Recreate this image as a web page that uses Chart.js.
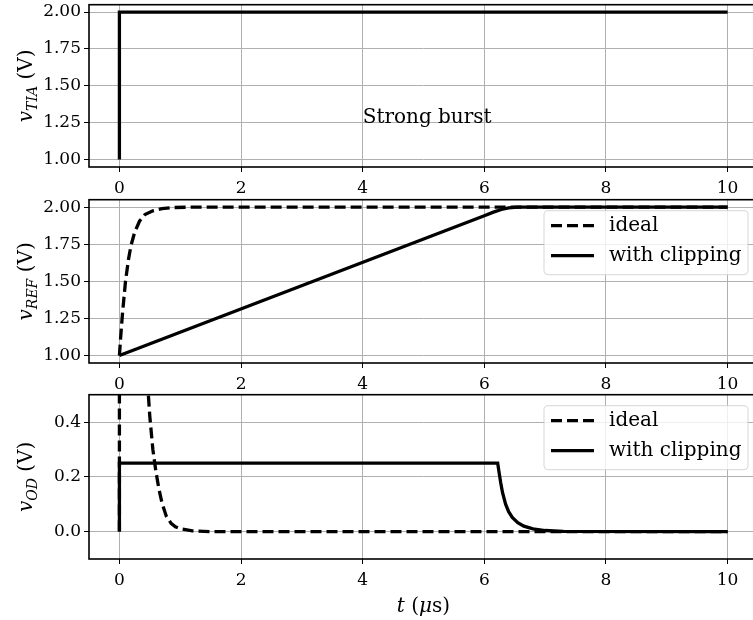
<!DOCTYPE html>
<html>
<head>
<meta charset="utf-8">
<script src="https://cdn.jsdelivr.net/npm/chart.js@4/dist/chart.umd.min.js"></script>
<style>
  html, body { margin: 0; padding: 0; background: #fff; overflow: hidden; width: 753px; height: 620px; }
  canvas { position: absolute; left: 0; }
</style>
</head>
<body>
<canvas id="tia" width="800" height="198" style="top:0px"></canvas>
<canvas id="ref" width="800" height="199" style="top:195px"></canvas>
<canvas id="od" width="800" height="230" style="top:390px"></canvas>
<script>
// tick positions
const ticksT = [0, 2, 4, 6, 8, 10];
const ticksV = [1.00, 1.25, 1.50, 1.75, 2.00];
const ticksOd = [0.0, 0.2, 0.4];

// v_TIA
const tTia = [0, 0, 10];
const vTia = [1.0, 2.0, 2.0];

// v_REF
const tRefIdeal = [0, 0.02, 0.05, 0.1, 0.15, 0.19, 0.25, 0.33, 0.42, 0.55, 0.7, 0.87, 1.2, 10];
const vRefIdeal = [1.0, 1.12, 1.28, 1.5, 1.65, 1.74, 1.83, 1.905, 1.95, 1.975, 1.99, 1.997, 2.0, 2.0];
const tRefClip = [0, 6.0, 6.15, 6.28, 6.4, 6.55, 10];
const vRefClip = [1.0, 1.942, 1.966, 1.984, 1.995, 2.0, 2.0];

// v_OD
const tOdIdeal = [0, 0, 0.4, 0.47, 0.5, 0.55, 0.6, 0.65, 0.7, 0.77, 0.85, 0.92, 1.0, 1.2, 1.5, 10];
const vOdIdeal = [0, 1.0, 0.75, 0.52, 0.42, 0.3, 0.22, 0.155, 0.105, 0.057, 0.03, 0.018, 0.011, 0.003, 0, 0];
const tOdClip = [0, 0, 6.22, 6.24, 6.27, 6.3, 6.35, 6.4, 6.46, 6.55, 6.65, 6.8, 7.0, 7.3, 10];
const vOdClip = [0, 0.25, 0.25, 0.22, 0.178, 0.142, 0.1, 0.073, 0.052, 0.033, 0.02, 0.01, 0.004, 0.001, 0];

const fonte = '"DejaVu Serif", serif';

function pontos(ts, vs) {
    return ts.map((t, i) => ({ x: t, y: vs[i] }));
}

function serie(ts, vs, tracejado) {
    return {
        data: pontos(ts, vs),
        borderColor: '#000',
        borderWidth: 3.3,
        borderDash: tracejado ? [11, 5] : [],
        pointRadius: 0,
        tension: 0,
        fill: false
    };
}

// spines, y label, legend and extra texts
const extras = {
    id: 'extras',
    afterDatasetsDraw(chart, args, opts) {
        const ctx = chart.ctx;
        const a = chart.chartArea;
        ctx.save();
        ctx.strokeStyle = '#000';
        ctx.lineWidth = 1.6;
        ctx.strokeRect(a.left, a.top, a.right - a.left, a.bottom - a.top);

        if (opts.texto) {
            ctx.font = '20px ' + fonte;
            ctx.fillStyle = '#000';
            ctx.textBaseline = 'alphabetic';
            ctx.textAlign = 'left';
            ctx.fillText(opts.texto.t, chart.scales.x.getPixelForValue(opts.texto.x), chart.scales.y.getPixelForValue(opts.texto.y));
        }

        if (opts.legenda) {
            const w = 204, h = 64;
            const x0 = a.right - 214, y0 = a.top + 11;
            ctx.beginPath();
            ctx.roundRect(x0, y0, w, h, 4);
            ctx.fillStyle = 'rgba(255,255,255,0.8)';
            ctx.fill();
            ctx.strokeStyle = 'rgba(204,204,204,0.8)';
            ctx.lineWidth = 1;
            ctx.stroke();
            opts.legenda.forEach((item, i) => {
                const yy = y0 + 15 + i * 30;
                ctx.beginPath();
                ctx.setLineDash(item.tracejado ? [11, 5] : []);
                ctx.strokeStyle = '#000';
                ctx.lineWidth = 3.3;
                ctx.moveTo(x0 + 7, yy);
                ctx.lineTo(x0 + 50, yy);
                ctx.stroke();
                ctx.setLineDash([]);
                ctx.fillStyle = '#000';
                ctx.font = '20px ' + fonte;
                ctx.textBaseline = 'middle';
                ctx.textAlign = 'left';
                ctx.fillText(item.rotulo, x0 + 65, yy);
            });
        }
        ctx.restore();

        desenharRotulo(ctx, opts.rotuloY, 32, (a.top + a.bottom) / 2, true);
        if (opts.rotuloX) desenharRotulo(ctx, opts.rotuloX, (a.left + a.right) / 2, chart.height - 8, false);
    }
};

function desenharRotulo(ctx, partes, x, y, girar) {
    ctx.save();
    ctx.fillStyle = '#000';
    ctx.textBaseline = 'alphabetic';
    ctx.textAlign = 'left';
    let total = 0;
    partes.forEach(p => {
        ctx.font = (p.italico ? 'italic ' : '') + p.tam + 'px ' + fonte;
        p.w = ctx.measureText(p.t).width;
        total += p.w;
    });
    ctx.translate(x, y);
    if (girar) ctx.rotate(-Math.PI / 2);
    let cx = -total / 2;
    partes.forEach(p => {
        ctx.font = (p.italico ? 'italic ' : '') + p.tam + 'px ' + fonte;
        ctx.fillText(p.t, cx, p.dy || 0);
        cx += p.w;
    });
    ctx.restore();
}

function opcoes(yMin, yMax, yTicks, casas, alturaX, extra) {
    return {
        responsive: false,
        animation: false,
        layout: { padding: { top: 2, right: 42, left: 0, bottom: 0 } },
        plugins: { legend: { display: false }, tooltip: { enabled: false }, extras: extra },
        scales: {
            x: {
                type: 'linear',
                min: -0.5,
                max: 10.5,
                afterBuildTicks: s => { s.ticks = ticksT.map(v => ({ value: v })); },
                afterFit: s => { s.height = alturaX; },
                grid: { color: '#b0b0b0', lineWidth: 1, tickColor: '#000', tickLength: 5, tickWidth: 1 },
                border: { display: false },
                ticks: { color: '#000', font: { family: fonte, size: 17 }, padding: 6, maxRotation: 0,
                    callback: v => String(v) }
            },
            y: {
                min: yMin,
                max: yMax,
                afterBuildTicks: s => { s.ticks = yTicks.map(v => ({ value: v })); },
                afterFit: s => { s.width = 89; },
                grid: { color: '#b0b0b0', lineWidth: 1, tickColor: '#000', tickLength: 5, tickWidth: 1 },
                border: { display: false },
                ticks: { color: '#000', font: { family: fonte, size: 17, lineHeight: 0.2 }, padding: 3,
                    callback: v => Number(v).toFixed(casas) }
            }
        }
    };
}

const legendaPadrao = [
    { rotulo: 'ideal', tracejado: true },
    { rotulo: 'with clipping', tracejado: false }
];

new Chart(document.querySelector('#tia'), {
    type: 'line',
    data: { datasets: [serie(tTia, vTia, false)] },
    options: opcoes(0.95, 2.05, ticksV, 2, 31, {
        rotuloY: [
            { t: 'v', italico: true, tam: 20 },
            { t: 'TIA', italico: true, tam: 14, dy: 5 },
            { t: ' (V)', italico: false, tam: 20 }
        ],
        texto: { t: 'Strong burst', x: 4, y: 1.25 }
    }),
    plugins: [extras]
});

new Chart(document.querySelector('#ref'), {
    type: 'line',
    data: { datasets: [serie(tRefIdeal, vRefIdeal, true), serie(tRefClip, vRefClip, false)] },
    options: opcoes(0.95, 2.05, ticksV, 2, 31, {
        rotuloY: [
            { t: 'v', italico: true, tam: 20 },
            { t: 'REF', italico: true, tam: 14, dy: 5 },
            { t: ' (V)', italico: false, tam: 20 }
        ],
        legenda: legendaPadrao
    }),
    plugins: [extras]
});

new Chart(document.querySelector('#od'), {
    type: 'line',
    data: { datasets: [serie(tOdIdeal, vOdIdeal, true), serie(tOdClip, vOdClip, false)] },
    options: opcoes(-0.1, 0.5, ticksOd, 1, 61, {
        rotuloY: [
            { t: 'v', italico: true, tam: 20 },
            { t: 'OD', italico: true, tam: 14, dy: 5 },
            { t: ' (V)', italico: false, tam: 20 }
        ],
        rotuloX: [
            { t: 't', italico: true, tam: 20 },
            { t: ' (', italico: false, tam: 20 },
            { t: 'μ', italico: true, tam: 20 },
            { t: 's)', italico: false, tam: 20 }
        ],
        legenda: legendaPadrao
    }),
    plugins: [extras]
});
</script>
</body>
</html>
